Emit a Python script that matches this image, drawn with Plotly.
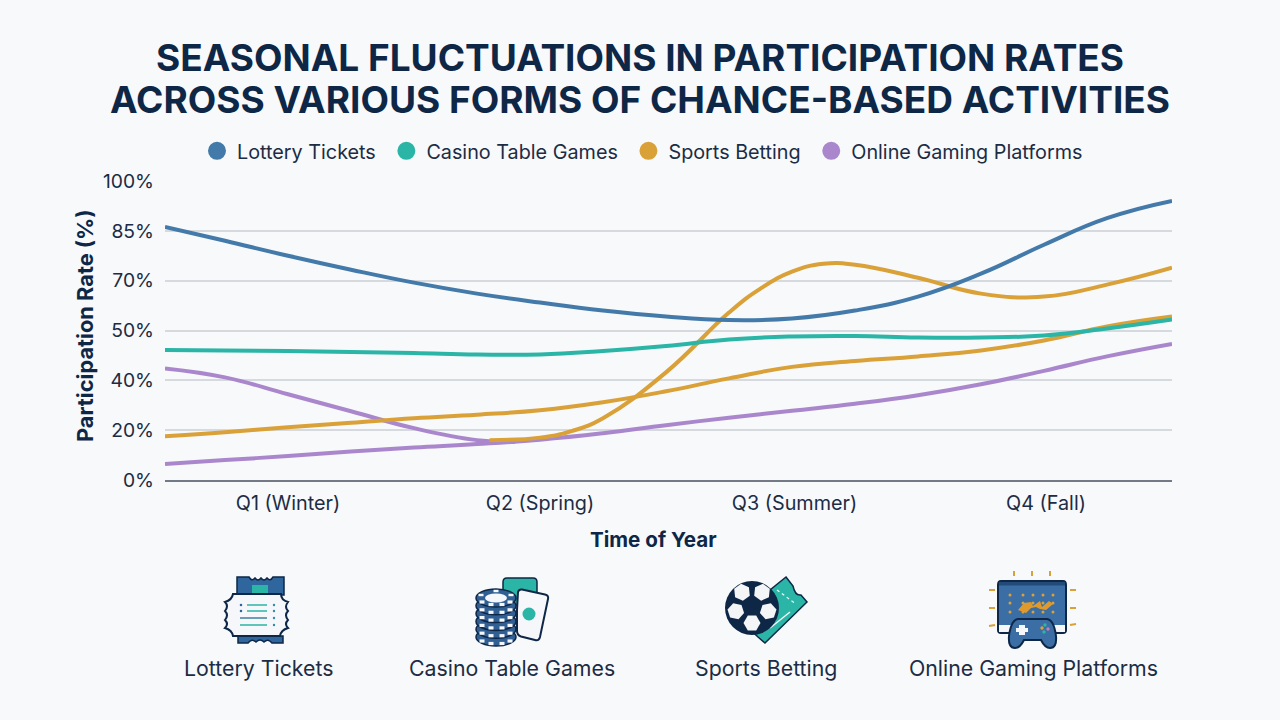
import numpy as np
import plotly.graph_objects as go

# Chart data: participation rates (%) by position in the year, measured in quarters from Q1
quarter_pos = [-0.488, -0.25, 0, 0.25, 0.5, 0.75, 1, 1.25, 1.5, 1.75, 2, 2.25, 2.5, 2.75, 3, 3.25, 3.508]
quarter_ticks = [0, 1, 2.01, 3.008]
quarter_labels = ["Q1 (Winter)", "Q2 (Spring)", "Q3 (Summer)", "Q4 (Fall)"]
rate_ticks = [0, 20, 40, 50, 70, 85, 100]
rate_labels = ["0%", "20%", "40%", "50%", "70%", "85%", "100%"]

lottery = [86.2, 82, 77.5, 73.3, 69.2, 64.8, 61.2, 58, 55.6, 54.2, 54.8, 58, 63.6, 72.1, 80.8, 88.8, 94]
casino = [46.1, 46, 45.9, 45.7, 45.5, 45.2, 45.2, 45.9, 46.9, 48.2, 48.8, 48.9, 48.6, 48.6, 49, 50.8, 54.4]
sports = [17.6, 19.2, 21.2, 23, 24.8, 26.2, 28, 31.2, 35.6, 40.4, 42.7, 43.9, 44.8, 46, 48, 51.6, 55.6]
online = [6.4, 8, 9.6, 11.4, 13, 14.4, 16.2, 18.8, 22, 25, 27.8, 30.6, 34, 38.4, 41.9, 44.8, 47.3]
# Second branches: they share a dip near Q2 and run over only part of the year
sports_peak_pos = [0.8, 1, 1.125, 1.25, 1.5, 1.75, 1.875, 2, 2.125, 2.25, 2.5, 2.75, 3, 3.25, 3.508]
sports_peak = [16, 17, 19.6, 24.8, 41.6, 57.2, 66.8, 72.7, 75.1, 74.8, 70.9, 64.8, 63.6, 68.4, 73.9]
online_early_pos = [-0.488, -0.25, 0, 0.25, 0.5, 0.75, 0.9]
online_early = [42.4, 40.6, 34.4, 27.6, 20.8, 16, 15.3]

names = ["Lottery Tickets", "Casino Table Games", "Sports Betting", "Online Gaming Platforms"]

NAVY = "#0e2747"
INK = "#1c2c44"
BLUE = "#437aa9"
TEAL = "#2bb5a6"
GOLD = "#d9a138"
PURPLE = "#aa87cc"
BG = "#f7f9fb"
CLEAR = "rgba(0,0,0,0)"
W, H = 1280, 720


def rate_axis(values):
    # The rate axis is spaced evenly by tick, not by value
    return np.interp(values, rate_ticks, np.arange(len(rate_ticks))).tolist()


fig = go.Figure()
curves = [
    (quarter_pos, online, PURPLE),
    (online_early_pos, online_early, PURPLE),
    (quarter_pos, sports, GOLD),
    (sports_peak_pos, sports_peak, GOLD),
    (quarter_pos, casino, TEAL),
    (quarter_pos, lottery, BLUE),
]
for xs, ys, colour in curves:
    fig.add_trace(go.Scatter(
        x=xs, y=rate_axis(ys), mode="lines", showlegend=False, cliponaxis=False, hoverinfo="skip",
        line=dict(color=colour, width=4, shape="spline", smoothing=1.3),
    ))
for name, colour in zip(names, [BLUE, TEAL, GOLD, PURPLE]):
    fig.add_trace(go.Scatter(
        x=[None], y=[None], mode="markers", name=name + "\u00a0",
        marker=dict(color=colour, size=16, line=dict(color=colour, width=2)),
    ))

# Icon row, drawn on a hidden axis pair that spans the whole canvas in pixels
shapes = []


def add_path(d, fill=None, line=None, width=0):
    shapes.append(dict(type="path", path=d, xref="x2", yref="y2", fillcolor=fill or CLEAR,
                       line=dict(color=line or CLEAR, width=width)))


def add_ellipse(cx, cy, rx, ry, fill=None, line=None, width=0):
    shapes.append(dict(type="circle", x0=cx - rx, x1=cx + rx, y0=cy - ry, y1=cy + ry, xref="x2", yref="y2",
                       fillcolor=fill or CLEAR, line=dict(color=line or CLEAR, width=width)))


def add_segment(x0, y0, x1, y1, colour, width=1.5, dash="solid"):
    shapes.append(dict(type="line", x0=x0, y0=y0, x1=x1, y1=y1, xref="x2", yref="y2",
                       line=dict(color=colour, width=width, dash=dash)))


def polygon(points):
    return "M " + " L ".join(f"{x:.1f},{y:.1f}" for x, y in points) + " Z"


# Lottery ticket
add_path("M237,577 L249,577 Q252,582 255,578 Q258,582 261,578 Q264,582 267,578 Q270,582 273,577 "
         "L284,577 L284,595 L237,595 Z", "#2f669e", NAVY, 1.5)
add_path("M252,585 L268,585 L268,595 L252,595 Z", TEAL)
add_path("M238,636 L283,636 L283,643 L272,643 Q268,638 264,642 Q260,638 256,642 Q252,638 248,643 L238,643 Z",
         "#2f669e", NAVY, 1.5)
add_path("M233,594 L281,594 Q281,600 288,602 Q284,607 288,611 Q284,615 288,620 Q284,624 288,628 Q281,630 280,636 "
         "L233,636 Q232,630 225,628 Q229,624 225,620 Q229,615 225,611 Q229,606 225,602 Q232,600 233,594 Z",
         "#f5f7fa", NAVY, 2)
for row_y, x_start, colour in [(605, 247, TEAL), (611, 247, TEAL), (618, 240, "#3f7f9f"), (625, 240, TEAL)]:
    add_segment(x_start, row_y, 267, row_y, colour, 1.5)
for row_y in [605, 611, 618, 625]:
    add_ellipse(274, row_y, 1.2, 1.2, "#2f8fa5")
add_ellipse(241, 605, 1.3, 1.3, "#2f669e")
add_ellipse(241, 611, 1.3, 1.3, "#2f669e")

# Casino chips and cards
add_path("M507,578 L533,578 Q537,578 537,582 L537,605 L503,605 L503,582 Q503,578 507,578 Z", TEAL, NAVY, 1.5)
for i in range(6):
    cy = 637 - i * 7.8
    add_ellipse(496, cy, 20, 9, "#2f5f93", NAVY, 1.5)
    for dx, dy in [(-14, 4), (-5, 6.5), (6, 6.5), (14, 4)]:
        add_path(polygon([(496 + dx - 2.5, cy + dy - 1.6), (496 + dx + 2.5, cy + dy - 1.6),
                          (496 + dx + 2.5, cy + dy + 1.6), (496 + dx - 2.5, cy + dy + 1.6)]), "#f5f7fa")
add_ellipse(496, 598, 11, 4.6, "#f5f7fa")
for dx, dy in [(-15, -3), (0, -7), (15, -3)]:
    add_path(polygon([(496 + dx - 2.5, 598 + dy - 1.2), (496 + dx + 2.5, 598 + dy - 1.2),
                      (496 + dx + 2.5, 598 + dy + 1.2), (496 + dx - 2.5, 598 + dy + 1.2)]), "#f5f7fa")
add_path("M522,589.5 L545,594.5 Q549,595.5 548,599 L540,637 Q539,641 535,640 L521,636.5 Q517,635 517,631 L517,610 "
         "L518,592 Q519,589 522,589.5 Z", "#f5f7fa", NAVY, 2)
add_ellipse(529, 614, 6.5, 6.5, TEAL)

# Football and betting slip
add_path("M786,577 L793,586 Q795,596 801,595 L807,602 L765,643 L758,637 L745,625 L770,590 Z", TEAL, NAVY, 1.5)
add_segment(777, 590, 796, 604, "#f5f7fa", 1.2, "dot")
add_segment(770, 628, 790, 612, "#f5f7fa", 1.5)
ball_x, ball_y, ball_r = 752, 608, 27
add_ellipse(ball_x, ball_y, ball_r, ball_r, NAVY)
for angle in [-54, 18, 90, 162, 234]:
    a = np.radians(angle)
    px, py = ball_x + 17 * np.cos(a), ball_y - 2 + 17 * np.sin(a)
    patch = [(px + 8.5 * np.cos(a + np.radians(k * 60 + 30)), py + 8.5 * np.sin(a + np.radians(k * 60 + 30)))
             for k in range(6)]
    add_path(polygon(patch), "#f3f5f7")

# Game console and display
for ray_x in [1014, 1032, 1050]:
    add_segment(ray_x, 571, ray_x, 576, GOLD, 2)
for ray_y, dy in [(590, 0), (608, 0), (625, 1)]:
    add_segment(989, ray_y + dy, 995, ray_y, GOLD, 2)
    add_segment(1070, ray_y, 1076, ray_y - dy, GOLD, 2)
add_path("M1001,581 L1063,581 Q1066,581 1066,585 L1066,630 Q1066,633 1063,633 L1001,633 Q998,633 998,630 L998,585 "
         "Q998,581 1001,581 Z", "#3b6ea5", NAVY, 2)
add_path("M999,625 L1065,625 L1065,632 L999,632 Z", "#f5f7fa")
add_path("M999,582 L1065,582 L1065,585.5 L999,585.5 Z", "#234b7a")
for dot_x in [1010, 1023, 1033, 1043, 1053]:
    for dot_y in [595, 603, 612]:
        add_ellipse(dot_x, dot_y, 1.5, 1.5, GOLD)
add_path("M1018,610 L1024,603 L1031,602 L1033,606 L1040,601 L1042,607 L1049,601 L1053,604 L1046,610 L1040,609 "
         "L1036,607 L1031,608 L1026,613 Z", "#e09a2b")
add_path("M1018,619 L1047,619 Q1054,620 1056,636 Q1057,648 1050,648 Q1045,648 1041,640 L1024,640 "
         "Q1020,648 1015,648 Q1008,648 1009,636 Q1011,620 1018,619 Z", "#3b6ea5", NAVY, 2)
add_path("M1019,625 L1025,625 L1025,628 L1028,628 L1028,632 L1025,632 L1025,635 L1019,635 L1019,632 L1016,632 "
         "L1016,628 L1019,628 Z", "#f5f7fa")
for bx, by, bc in [(1042, 628, GOLD), (1045, 625, TEAL), (1048, 629, "#c77fb0"), (1044, 632, TEAL)]:
    add_ellipse(bx, by, 1.7, 1.7, bc)

# Captions beneath the icons
captions = [(258, names[0]), (512, names[1]), (766, names[2]), (1033, names[3])]
annotations = [dict(x=cx, y=668, xref="x2", yref="y2", text=label, showarrow=False,
                    font=dict(family="Inter", size=21.3, color=INK)) for cx, label in captions]

# Axis titles sit slightly off-centre from their axes, so they are placed directly
annotations.append(dict(x=653.5, y=539, xref="x2", yref="y2", text="Time of Year", showarrow=False,
                        font=dict(family="Inter", size=20.6, color=NAVY, weight=700)))
annotations.append(dict(x=85, y=326, xref="x2", yref="y2", text="Participation Rate (%)", showarrow=False,
                        textangle=-90, font=dict(family="Inter", size=21.8, color=NAVY, weight=700)))

# The title's line spacing follows the base size, so the glyph size is set per line
title_lines = ["SEASONAL FLUCTUATIONS IN PARTICIPATION RATES", "ACROSS VARIOUS FORMS OF CHANCE-BASED ACTIVITIES"]
title_text = "<br>".join(f'<span style="font-size:37px">{line}</span>' for line in title_lines)

fig.update_layout(
    width=W, height=H, autosize=False,
    margin=dict(l=0, r=0, t=0, b=0),
    paper_bgcolor=BG, plot_bgcolor=CLEAR,
    font=dict(family="Inter", color=INK),
    title=dict(
        text=title_text,
        x=0.5, xanchor="center", y=1 - 71 / H, yanchor="middle",
        font=dict(family="Inter", size=32.3, color=NAVY, weight=700),
    ),
    legend=dict(
        orientation="h", x=197 / W, xanchor="left", y=1 - 151 / H, yanchor="middle",
        font=dict(family="Inter", size=19.8, color=INK), bgcolor=CLEAR, itemwidth=30,
        itemsizing="trace",
    ),
    xaxis=dict(
        domain=[165 / W, 1172 / W], range=[-0.488, 3.508], tickmode="array",
        tickvals=quarter_ticks, ticktext=quarter_labels, showgrid=False, zeroline=False,
        showline=True, linecolor="#737a85", linewidth=1.5, ticks="", ticklabelstandoff=4,
        tickfont=dict(family="Inter", size=19.8, color=INK), automargin=False,
    ),
    yaxis=dict(
        domain=[1 - 480 / H, 1 - 181 / H], range=[0, 6], tickmode="array",
        tickvals=list(range(len(rate_ticks))), ticktext=rate_labels, showgrid=True,
        gridcolor="#d6d9dd", gridwidth=1.5, zeroline=False, showline=False, ticks="", ticklabelstandoff=10,
        tickfont=dict(family="Inter", size=19.3, color=INK), automargin=False,
    ),
    xaxis2=dict(domain=[0, 1], range=[0, W], anchor="y2", visible=False, fixedrange=True),
    yaxis2=dict(domain=[0, 1], range=[H, 0], anchor="x2", visible=False, fixedrange=True),
    shapes=shapes,
    annotations=annotations,
)

fig.write_html("out.html")
